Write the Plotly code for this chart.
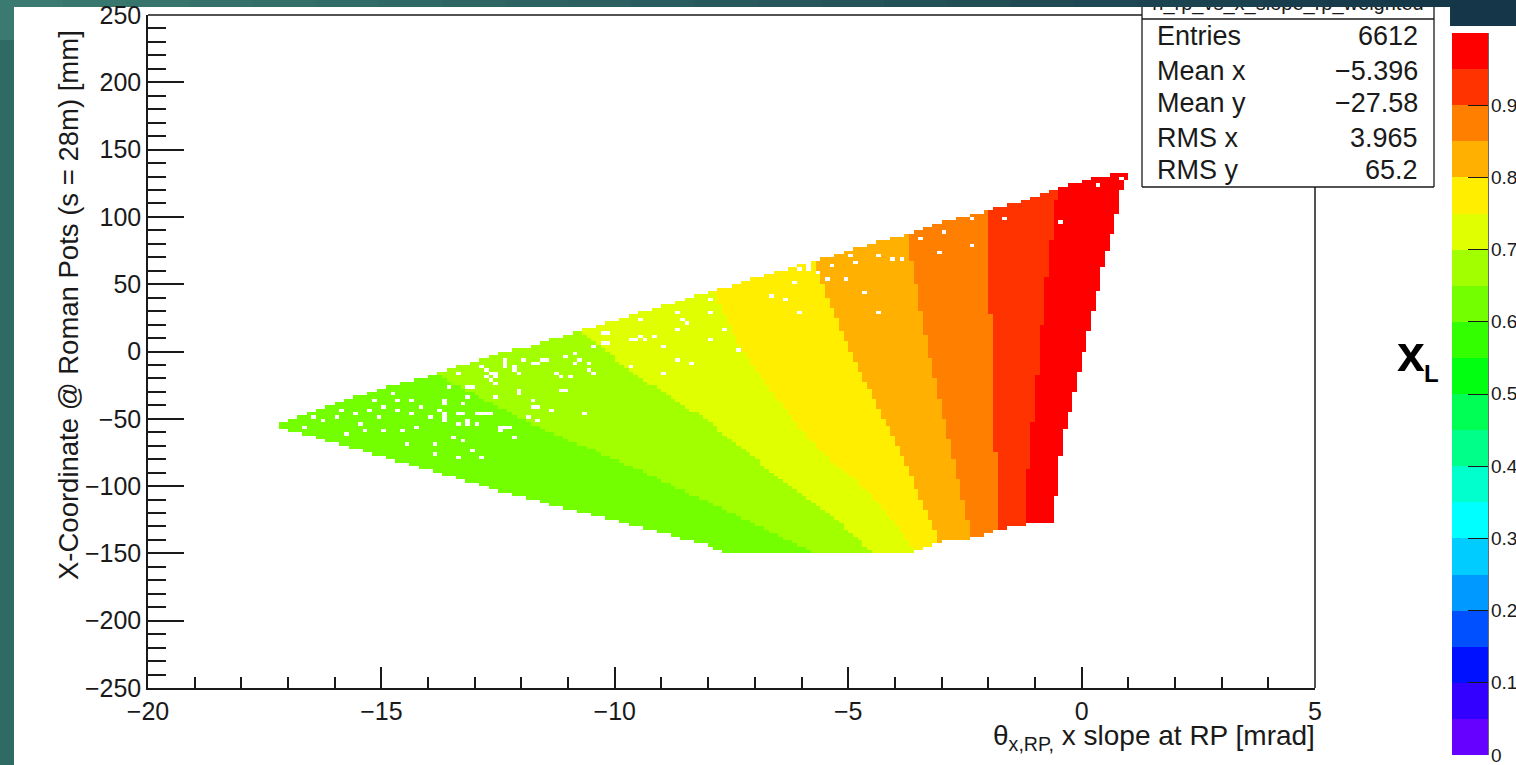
import numpy as np
import plotly.graph_objects as go

W, H = 1516, 765

# ---------------- data ----------------
X_MIN, X_MAX, X_BIN = -20.0, 5.0, 0.1      # theta_x,RP bins [mrad]
Y_MIN, Y_MAX, Y_BIN = -250.0, 250.0, 2.5   # X at RP bins [mm]

# upper edge of the filled region (x increasing)
UP_X = [-17.24, -16.90, -16.10, -14.97, -13.90, -12.47, -11.61, -10.69, -9.41, -8.04,
        -6.62, -5.77, -4.61, -3.75, -2.98, -1.98, -1.06, -0.48, 0.23, 1.02]
UP_Y = [-55.3, -49.4, -39.7, -27.1, -17.5, -1.1, 6.3, 16.0, 29.3, 43.5,
        58.3, 66.5, 79.1, 86.6, 96.2, 105.1, 114.0, 121.5, 128.9, 134.1]
# lower edge + right edge of the filled region (x increasing)
LO_X = [-17.24, -15.68, -14.97, -13.75, -12.32, -10.90, -9.47, -8.04, -7.61, -3.63,
        -3.05, -2.34, -1.76, -1.27, -0.63, -0.52, -0.42, -0.27, -0.12, -0.01,
        0.12, 0.23, 0.38, 0.48, 0.63, 0.76, 0.87, 1.02]
LO_Y = [-56.1, -71.0, -78.4, -90.3, -105.1, -117.8, -130.4, -143.8, -149.7, -149.7,
        -141.5, -138.6, -132.6, -128.9, -126.7, -101.4, -65.7, -48.7, -26.4, -8.5,
        8.5, 28.6, 47.9, 68.0, 84.3, 103.6, 122.2, 134.1]

# iso-x_L boundaries between colour bands (y increasing)
B065_Y = [-149.0, -123.0, -88.0, -56.8, -17.5]
B065_X = [-5.77, -7.33, -9.47, -11.61, -13.81]
B070_Y = [-149.7, -127.4, -90.3, -50.9, -18.9, 17.5]
B070_X = [-4.48, -5.19, -6.62, -8.04, -9.47, -10.86]
B075_Y = [-147.5, -123.0, -102.9, -86.6, -63.5, -30.8, 3.3, 45.7]
B075_X = [-3.58, -4.12, -4.61, -5.19, -5.89, -6.62, -7.33, -7.91]
B080_Y = [-141.5, -73.2, -4.1, 68.0]
B080_X = [-3.05, -3.90, -4.91, -5.77]
B085_Y = [-138.6, -58.3, 8.5, 86.6]
B085_X = [-2.36, -2.90, -3.33, -3.75]
B090_Y = [-134.1, -36.0, 105.1]
B090_X = [-1.76, -1.91, -2.00]
B095_Y = [-128.9, -102.9, -23.4, 50.9, 120.7]
B095_X = [-1.25, -1.19, -0.97, -0.76, -0.52]
FIRST_BAND_XL = 0.625   # x_L of the left-most (lowest) band
BAND_STEP = 0.05

# empty bins inside the region
HOLES = [(-16.50, -48.8), (-16.68, -55.8), (-16.46, -63.2), (-16.22, -50.8), (-15.97, -49.6),
         (-15.86, -43.4), (-15.75, -60.7), (-15.54, -45.9), (-15.47, -53.3), (-15.39, -59.5),
         (-15.25, -43.4), (-15.18, -36.0), (-15.07, -49.6), (-14.97, -59.5), (-14.90, -40.9),
         (-14.75, -32.2), (-14.68, -36.0), (-14.61, -43.4), (-14.54, -58.2), (-14.47, -68.1),
         (-14.33, -36.0), (-14.33, -45.9), (-14.25, -57.0), (-14.11, -40.9), (-13.97, -48.3),
         (-13.86, -68.1), (-13.83, -75.6), (-13.72, -43.4), (-13.65, -36.0), (-13.61, -49.6),
         (-13.54, -26.1), (-13.47, -64.4), (-13.33, -78.0), (-13.26, -65.7), (-13.18, -33.5),
         (-13.11, -26.1), (-13.11, -50.8), (-13.08, -73.1), (-12.90, -45.9), (-12.83, -78.0),
         (-12.79, -13.7), (-12.76, -45.9), (-12.68, -22.3), (-12.58, -17.4), (-12.54, -33.5),
         (-12.40, -57.0), (-12.33, -10.0), (-12.29, -55.8), (-12.19, -63.2), (-12.11, -13.7),
         (-12.04, -29.8), (-11.90, -7.5), (-11.83, 3.6), (-11.72, -36.0), (-11.72, -42.1),
         (-11.69, -10.0), (-11.54, -7.5), (-11.33, -43.4), (-11.19, -18.6), (-11.12, -28.5),
         (-10.97, -18.6), (-10.87, -1.3), (-10.79, -7.5), (-10.69, -45.9), (-10.54, -10.0),
         (-10.54, -13.7), (-10.40, -17.4), (-10.26, 13.5), (-10.19, 6.1), (-9.69, -11.2),
         (-9.51, 9.8), (-9.44, 23.4),
         (-13.54, -26.1), (-13.32, -16.2), (-13.25, -38.4), (-13.11, -33.5), (-13.04, -27.3),
         (-12.82, -12.4), (-12.79, -19.9), (-12.68, -16.2), (-12.57, -18.6), (-12.57, -23.6),
         (-12.57, -33.5), (-12.39, -6.3), (-12.32, -12.4), (-12.11, -11.2), (-12.07, -16.2),
         (-12.04, -31.0), (-11.93, -6.3), (-11.90, 4.9), (-11.72, -10.0), (-11.72, -36.0),
         (-11.68, -40.9), (-11.68, -50.8), (-11.47, -7.5), (-11.32, -43.4), (-11.22, -16.2),
         (-11.18, -29.8), (-11.08, -3.8), (-11.08, -28.5), (-10.93, -18.6), (-10.83, -0.1),
         (-10.83, -8.7), (-10.68, -45.9), (-10.58, -8.7), (-10.58, -13.7), (-10.43, -17.4),
         (-10.43, 3.6), (-10.26, 7.4), (-10.18, 14.8), (-9.61, 9.8), (-9.47, 11.1),
         (-9.43, 24.7), (-9.33, 9.8), (-9.18, 11.1), (-8.97, 4.9), (-8.94, -16.2),
         (-8.69, -6.3), (-8.69, 17.3), (-8.61, 29.6), (-8.58, 24.7), (-8.44, 21.0),
         (-8.33, -8.7), (-7.94, 29.6), (-7.94, 39.5), (-7.94, 9.8), (-7.69, 17.3),
         (-7.33, 0.0), (-6.69, 42.0), (-6.40, 39.5), (-6.30, 39.5), (-6.19, 51.9),
         (-6.05, 29.6), (-5.83, 63.0), (-5.69, 59.3), (-5.44, 54.4), (-5.33, 63.0),
         (-5.08, 54.4),
         (-13.46, -64.4), (-13.22, -65.7), (-13.07, -73.1), (-13.32, -78.0), (-12.82, -78.0),
         (-12.47, -58.2), (-12.32, -55.8), (-12.18, -63.2), (-11.82, -48.3), (-13.61, -45.9),
         (-13.39, -45.9), (-13.25, -45.9), (-12.82, -45.9), (-12.68, -45.9), (-13.64, -50.8),
         (-13.39, -53.3), (-13.18, -53.3), (-12.97, -53.3), (-13.64, -38.4),
         (-6.05, 61.8), (-5.83, 61.8), (-5.69, 59.4), (-5.44, 54.4), (-5.33, 63.1),
         (-5.08, 54.4), (-4.97, 71.7), (-4.83, 66.8), (-4.69, 44.5), (-4.33, 71.7),
         (-4.33, 28.9), (-4.05, 69.3), (-3.80, 69.3), (-3.44, 84.1), (-3.09, 74.2),
         (-2.98, 89.1), (-2.34, 98.9), (-2.34, 79.2), (-1.70, 97.7), (-0.45, 96.5),
         (0.30, 123.7), (0.80, 129.9)]
HOLE_X = [p[0] for p in HOLES]
HOLE_Y = [p[1] for p in HOLES]

# palette (20 contour bands from 0 to 1)
BAND_COLORS = ["#6600ff", "#3300ff", "#0011ff", "#0050ff", "#0099ff", "#00ccff", "#00ffff",
               "#00ffcc", "#00ff88", "#00ff55", "#00ff11", "#33ff00", "#73ff00", "#a2ff00",
               "#e0ff00", "#ffee00", "#ffb000", "#ff8000", "#ff3300", "#ff0000"]
Z_MIN, Z_MAX = 0.0, 1.0
CB_TICKS = [0.0, 0.1, 0.2, 0.3, 0.4, 0.5, 0.6, 0.7, 0.8, 0.9]
CB_TICKTEXT = ["0", "0.1", "0.2", "0.3", "0.4", "0.5", "0.6", "0.7", "0.8", "0.9"]

X_TICKS = [-20, -15, -10, -5, 0, 5]
STATS_TITLE = "h_rp_vs_x_slope_rp_weighted"
STATS_LABELS = ["Entries", "Mean x", "Mean y", "RMS x", "RMS y"]
STATS_VALUES = ["6612", "\u22125.396", "\u221227.58", "3.965", "65.2"]

# ---------------- histogram grid ----------------
nx = int(round((X_MAX - X_MIN) / X_BIN))
ny = int(round((Y_MAX - Y_MIN) / Y_BIN))
xc = X_MIN + X_BIN * (np.arange(nx) + 0.5)
yc = Y_MIN + Y_BIN * (np.arange(ny) + 0.5)
XX, YY = np.meshgrid(xc, yc)
yup = np.interp(XX, UP_X, UP_Y, left=np.nan, right=np.nan)
ylo = np.interp(XX, LO_X, LO_Y, left=np.nan, right=np.nan)
inside = (YY <= yup) & (YY >= ylo)
k = np.zeros_like(XX)
for by, bx in [(B065_Y, B065_X), (B070_Y, B070_X), (B075_Y, B075_X), (B080_Y, B080_X),
               (B085_Y, B085_X), (B090_Y, B090_X), (B095_Y, B095_X)]:
    k += (XX > np.interp(YY, by, bx)).astype(float)
Z = np.where(inside, FIRST_BAND_XL + BAND_STEP * k, np.nan)
hix = np.floor((np.array(HOLE_X) - X_MIN) / X_BIN).astype(int)
hiy = np.floor((np.array(HOLE_Y) - Y_MIN) / Y_BIN).astype(int)
Z[hiy, hix] = np.nan

nb = len(BAND_COLORS)
colorscale = []
for i, c in enumerate(BAND_COLORS):
    colorscale.append([i / nb, c])
    colorscale.append([(i + 1) / nb, c])

# ---------------- layout helpers (pixel -> paper) ----------------
def fx(p):
    return p / W

def fy(p):
    return 1 - p / H

FONT = "Liberation Sans, Arial, Helvetica, sans-serif"
INK = "#1a1a1a"
CB_TOP_PX, CB_BOTTOM_PX = 33, 755

fig = go.Figure()
fig.add_trace(go.Heatmap(
    x=xc, y=yc, z=Z, zmin=Z_MIN, zmax=Z_MAX, colorscale=colorscale,
    hoverinfo="skip", zsmooth=False,
    colorbar=dict(
        x=fx(1452), xanchor="left", xref="paper",
        y=fy(CB_BOTTOM_PX), yanchor="bottom", yref="paper",
        len=CB_BOTTOM_PX - CB_TOP_PX, lenmode="pixels", thickness=36, thicknessmode="pixels",
        xpad=0, ypad=0, outlinewidth=0,
        tickmode="array", tickvals=CB_TICKS, ticktext=CB_TICKTEXT,
        ticks="inside", ticklen=20, tickwidth=1.3, tickcolor=INK,
        showticklabels=False,
    ),
))
# stats-box title, clipped by the slide edge
fig.add_trace(go.Scatter(
    x=[0.5], y=[1.17], mode="text", text=[STATS_TITLE], textposition="middle center",
    textfont=dict(family=FONT, size=20, color=INK), cliponaxis=True,
    hoverinfo="skip", showlegend=False, xaxis="x2", yaxis="y2",
))

shapes = []
# slide background gradient along the top
n_strips = 24
c0 = np.array([58, 122, 112])
c1 = np.array([20, 54, 72])
for i in range(n_strips):
    t = i / (n_strips - 1)
    c = (c0 * (1 - t) + c1 * t).astype(int)
    shapes.append(dict(type="rect", xref="paper", yref="paper", layer="below",
                       x0=fx(i * W / n_strips), x1=fx((i + 1) * W / n_strips + 1),
                       y0=fy(0), y1=fy(40), line=dict(width=0),
                       fillcolor=f"rgb({c[0]},{c[1]},{c[2]})"))
# white picture panels
shapes.append(dict(type="rect", xref="paper", yref="paper", layer="below",
                   x0=fx(14), x1=fx(1450), y0=fy(7), y1=fy(H), line=dict(width=0),
                   fillcolor="white"))
shapes.append(dict(type="rect", xref="paper", yref="paper", layer="below",
                   x0=fx(1450), x1=fx(W), y0=fy(26), y1=fy(H), line=dict(width=0),
                   fillcolor="white"))

def line(x0, y0, x1, y1, w=1.5):
    return dict(type="line", xref="paper", yref="paper", layer="above",
                x0=fx(x0), y0=fy(y0), x1=fx(x1), y1=fy(y1),
                line=dict(color=INK, width=w))

shapes += [
    line(148, 15, 1142, 15),        # frame top
    line(1315, 187, 1315, 688),     # frame right
    line(1142, 7, 1142, 187, 1.3),  # stats box
    line(1434, 7, 1434, 187, 1.3),
    line(1142, 187, 1434, 187, 1.3),
    line(1142, 19, 1434, 19, 1.3),
    line(1488, CB_TOP_PX, 1488, CB_BOTTOM_PX, 1.3),  # palette axis
]

annotations = [
    dict(text="X-Coordinate @ Roman Pots (s = 28m) [mm]", textangle=-90,
         x=fx(68), y=fy(28), xanchor="center", yanchor="top",
         font=dict(family=FONT, size=27.5, color=INK)),
    dict(text="\u03b8<sub>x,RP,</sub> x slope at RP [mrad]",
         x=fx(1317), y=fy(737), xanchor="right", yanchor="middle",
         font=dict(family=FONT, size=28, color=INK)),
    dict(text="<b>x</b>", x=fx(1411), y=fy(354), xanchor="center", yanchor="middle",
         font=dict(family=FONT, size=50, color="black")),
    dict(text="<b>L</b>", x=fx(1431), y=fy(373), xanchor="center", yanchor="middle",
         font=dict(family=FONT, size=24, color="black")),
]
# palette labels (placed through the palette's value scale)
for v, t in zip(CB_TICKS, CB_TICKTEXT):
    py = CB_BOTTOM_PX - (v - Z_MIN) / (Z_MAX - Z_MIN) * (CB_BOTTOM_PX - CB_TOP_PX)
    annotations.append(dict(text=t, x=fx(1489), y=fy(py), xanchor="left", yanchor="middle",
                            font=dict(family=FONT, size=19, color=INK)))
ROW_PX = [36, 70.5, 103.5, 138, 170]
for lab, val, ry in zip(STATS_LABELS, STATS_VALUES, ROW_PX):
    annotations.append(dict(text=lab, x=fx(1155), y=fy(ry), xanchor="left", yanchor="middle",
                            font=dict(family=FONT, size=27, color=INK)))
    annotations.append(dict(text=val, x=fx(1420), y=fy(ry), xanchor="right", yanchor="middle",
                            font=dict(family=FONT, size=27, color=INK)))
for a in annotations:
    a.update(xref="paper", yref="paper", showarrow=False)

fig.update_layout(
    width=W, height=H, autosize=False,
    margin=dict(l=0, r=0, t=0, b=0, pad=0, autoexpand=False),
    paper_bgcolor="#2f6a64", plot_bgcolor="rgba(0,0,0,0)",
    showlegend=False,
    shapes=shapes, annotations=annotations,
    xaxis=dict(domain=[fx(148), fx(1315)], range=[X_MIN, X_MAX],
               tickmode="array", tickvals=X_TICKS,
               ticks="inside", ticklen=21, tickwidth=1.5, tickcolor=INK,
               minor=dict(dtick=1, ticks="inside", ticklen=11, tickwidth=1.5, tickcolor=INK,
                          showgrid=False),
               showline=True, linecolor=INK, linewidth=1.5, mirror=False,
               showgrid=False, zeroline=False, automargin=False,
               tickfont=dict(family=FONT, size=25, color=INK), anchor="y"),
    yaxis=dict(domain=[fy(688), fy(15)], range=[Y_MIN, Y_MAX],
               tick0=0, dtick=50,
               ticks="inside", ticklen=36, tickwidth=1.5, tickcolor=INK,
               minor=dict(dtick=10, ticks="inside", ticklen=18, tickwidth=1.5, tickcolor=INK,
                          showgrid=False),
               showline=True, linecolor=INK, linewidth=1.5, mirror=False,
               showgrid=False, zeroline=False, automargin=False,
               tickfont=dict(family=FONT, size=25, color=INK), anchor="x"),
    xaxis2=dict(domain=[fx(1142), fx(1434)], range=[0, 1], visible=False, anchor="y2"),
    yaxis2=dict(domain=[fy(19), fy(7)], range=[0, 1], visible=False, anchor="x2"),
)

fig.write_html("out.html")
